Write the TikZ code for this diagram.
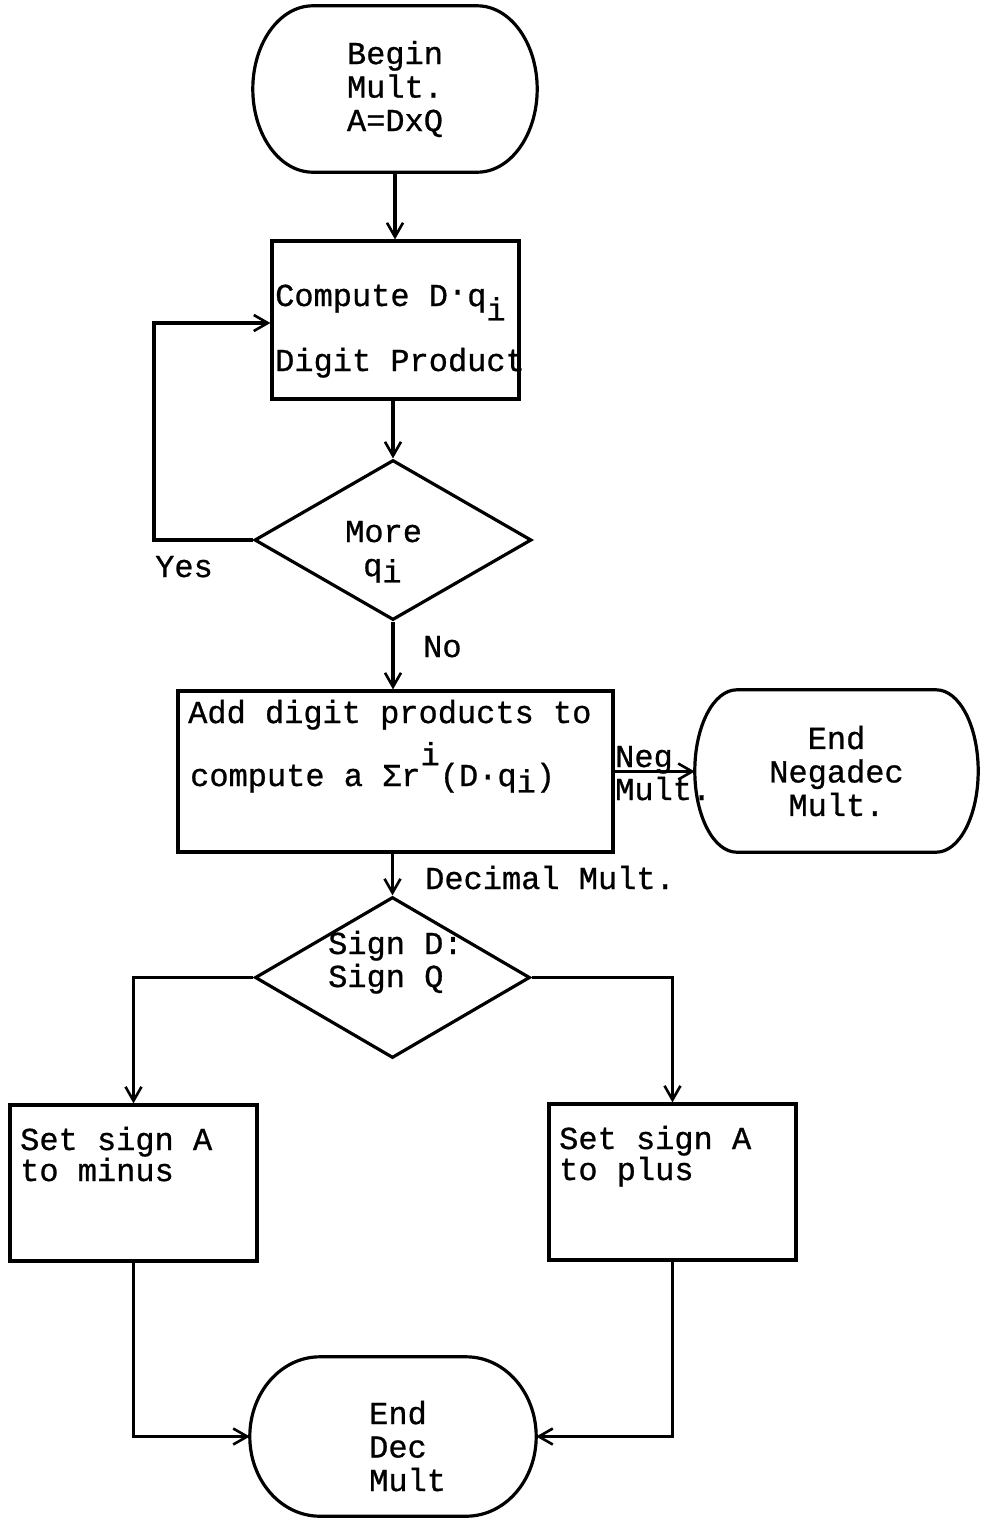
\documentclass[tikz,border=0pt]{standalone}
\usepackage{fontspec}
\setmainfont{Liberation Mono}[FakeBold=0.8]
\usetikzlibrary{shapes.geometric,arrows.meta,calc}

% outline of a terminal: flat top and bottom, elliptic ends (node name, end radius)
\newcommand\termline[2]{%
  \draw[line] let \p1=(#1.north west), \p2=(#1.south east), \n1={(\y1-\y2)/2} in
    (\x1+#2pt,\y1) -- (\x2-#2pt,\y1)
    arc[start angle=90, end angle=-90, x radius=#2pt, y radius=\n1]
    -- (\x1+#2pt,\y2)
    arc[start angle=270, end angle=90, x radius=#2pt, y radius=\n1] -- cycle;}

\begin{document}
\begin{tikzpicture}[x=1pt,y=1pt,
  txt/.style={inner sep=0pt, font=\fontsize{32}{33.5}\selectfont},
  line/.style={line width=3.2pt},
  box/.style={draw, line width=3.2pt, rectangle, inner sep=0pt},
  decision/.style={draw, line width=3.2pt, diamond, inner sep=0pt},
  term/.style={rectangle, inner sep=0pt, align=center, font=\fontsize{32}{33.5}\selectfont},
  flow/.style={line width=3.2pt, -{Straight Barb[length=14pt,width=16pt,line width=2.6pt]}}]
\useasboundingbox (0,0) rectangle (982,-1519);

% start
\node[term, minimum width=284pt, minimum height=166pt] (begin) at (395,-89) {Begin\\Mult.\\A=DxQ};
\termline{begin}{60}

% digit product loop
\node[box, minimum width=247pt, minimum height=158pt] (compute) at (395.5,-320) {};
\node[txt, anchor=base west] (computeA) at (275,-306) {Compute D\raisebox{.15em}{·}q\raisebox{-.45em}{i}};
\node[txt, anchor=base west] (computeB) at (275,-371) {Digit Product};

\node[decision, minimum width=277pt, minimum height=160pt] (more) at (393,-540) {};
\node[txt, anchor=base west] (moreA) at (345,-542) {More};
\node[txt, anchor=base west] (moreB) at (363,-576) {q\raisebox{-.2em}{i}};

% summation
\node[box, minimum width=435pt, minimum height=161pt] (add) at (395.5,-771.5) {};
\node[txt, anchor=base west] (addA) at (188,-723) {Add digit products to};
\node[txt, anchor=base west] (addB) at (190,-786) {compute a \char"03A3 r\raisebox{.65em}{i}(D·q\raisebox{-.2em}{i})};

\node[term, minimum width=283pt, minimum height=162pt] (negend) at (836.5,-771) {End\\Negadec\\Mult.};
\termline{negend}{42}

% sign of the product
\node[decision, minimum width=275pt, minimum height=161pt] (sign) at (392.5,-977.5) {};
\node[txt, anchor=base west] (signA) at (328,-954) {Sign D:};
\node[txt, anchor=base west] (signB) at (328,-987) {Sign Q};

\node[box, minimum width=247pt, minimum height=156pt] (minus) at (133.5,-1183) {};
\node[txt, anchor=base west] (minusA) at (20,-1150) {Set sign A};
\node[txt, anchor=base west] (minusB) at (20,-1181) {to minus};

\node[box, minimum width=247pt, minimum height=156pt] (plus) at (672.5,-1182) {};
\node[txt, anchor=base west] (plusA) at (559,-1149) {Set sign A};
\node[txt, anchor=base west] (plusB) at (559,-1180) {to plus};

% end
\node[term, minimum width=286pt, minimum height=159pt] (decend) at (393,-1436.5) {};
\termline{decend}{70}
\node[txt, anchor=base west, align=left] (decendT) at (369,-1491) {End\\Dec\\Mult};

% connectors
\draw[flow] (begin.south) -- (begin.south |- compute.north);
\draw[flow] (more.north |- compute.south) -- (more.north);
\coordinate (loop) at (154,-323);
\draw[flow] (more.west) -| (loop) -- (loop -| compute.west);
\node[txt, anchor=base west] (yes) at (155,-577) {Yes};
\draw[flow] (more.south) -- (more.south |- add.north);
\node[txt, anchor=base west] (no) at (423,-657) {No};
\draw[flow] (add.east) -- (add.east -| negend.west);
\node[txt, anchor=base west] (neg) at (615,-767) {Neg};
\node[txt, anchor=base west] (negm) at (615,-800) {Mult.};
\draw[flow] (sign.north |- add.south) -- (sign.north);
\node[txt, anchor=base west] (decmult) at (425,-889) {Decimal Mult.};
\draw[flow] (sign.west) -| (minus.north);
\draw[flow] (sign.east) -| (plus.north);
\draw[flow] (minus.south) |- (decend.west);
\draw[flow] (plus.south) |- (decend.east);
\end{tikzpicture}
\end{document}
